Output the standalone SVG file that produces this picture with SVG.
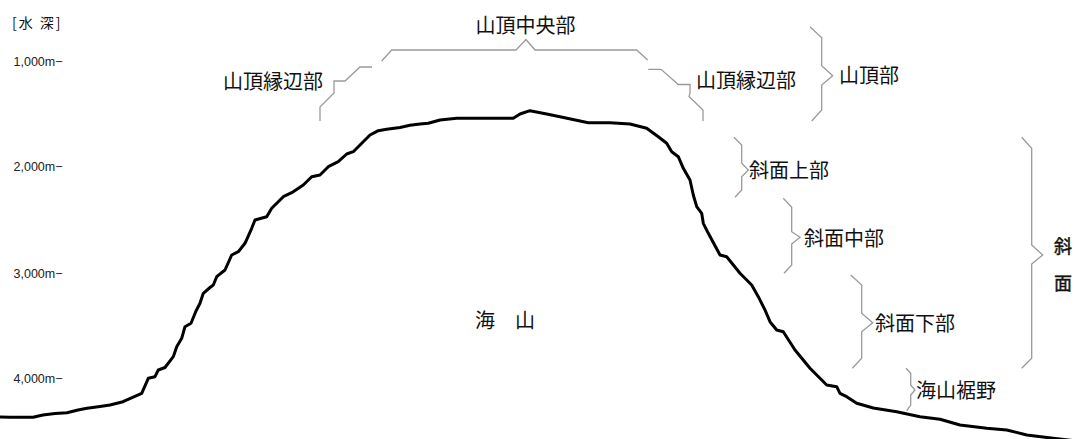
<svg xmlns="http://www.w3.org/2000/svg" width="1077" height="439" viewBox="0 0 1077 439">
  <style>
    .jp { font-family: "Noto Sans CJK JP", "Noto Sans", sans-serif; fill: #111; }
    .lbl { font-size: 20px; }
    .axis { font-family: "Liberation Sans", Arial, sans-serif; font-size: 12.5px; fill: #222; }
    .brace { fill: none; stroke: #9a9a9a; stroke-width: 1.3; stroke-linejoin: miter; }
    .profile { fill: none; stroke: #000; stroke-width: 3; stroke-linejoin: round; stroke-linecap: round; }
    .vert { font-size: 18px; stroke: #111; stroke-width: 0.45; }
  </style>
  <rect width="1077" height="439" fill="#fff"/>

  <!-- depth scale -->
  <g id="depth-axis">
    <text class="jp" x="12" y="28" font-size="14" letter-spacing="2">[水 深]</text>
    <text class="axis" x="13.5" y="65.5">1,000m−</text>
    <text class="axis" x="13.5" y="170.5">2,000m−</text>
    <text class="axis" x="13.5" y="277.8">3,000m−</text>
    <text class="axis" x="13.5" y="382.8">4,000m−</text>
  </g>

  <!-- seamount cross-section -->
  <g id="seamount">
    <path class="profile" d="M0,417 L10,417.3 L33,417.3 L43,415 L55,413.5 L67,412.7 L78,410 L87,408.3 L100,406.5 L110,405 L123,401.7 L141.7,393.3 L148.3,378.3 L155,376.7 L158.3,370 L165,367.5 L173.3,356.7 L176.7,346.7 L181.7,338.3 L185,326.7 L191,323.3 L196,311 L200,303.3 L203.3,293.3 L210,287.5 L213.3,285 L216.7,276.7 L225,270 L231.7,255 L238.3,251.7 L245,243.3 L251.7,228.3 L255,220 L266.7,216.7 L271.7,208.3 L283.3,196.7 L291.7,192.7 L303.3,185 L311.7,176.7 L320,175 L328.3,166.7 L338.3,161.7 L346.7,154 L353.3,151.7 L360,145 L370,135 L378.3,130.7 L386.7,129.3 L400,127.5 L410,125.3 L420,124 L428.3,123.3 L440,120 L456.7,118.3 L513.3,118.3 L520,114 L530,110.7 L546.7,114 L560,116.7 L588.3,122.7 L610,122.7 L630,124 L646.7,128.3 L658.3,136.7 L666.7,143.3 L671.7,151.7 L678.3,156.7 L683.3,168.3 L690,180 L693.3,195 L696.7,206.7 L701.7,213.3 L703.3,223.3 L708.3,233.3 L720,255 L726.7,256.7 L740,273.3 L751.7,285 L758.3,296.7 L765,310 L770,321.7 L776.7,330 L783.3,331.7 L795,350 L810,368.3 L826.7,385 L836.7,386.7 L840,393.3 L846.7,396.7 L856.7,403.3 L873.3,408 L896.7,411.7 L920,416.7 L940,419.3 L960,425 L986.7,428.3 L1006.7,430 L1026.7,435 L1053.3,438.3 L1077,441"/>
    <text class="jp lbl" x="475" y="328.3">海　山</text>
  </g>

  <!-- brace connectors -->
  <g id="braces">
    <polyline class="brace" points="320,121 320,107 334,93 334,81 345,81 360,67 372,67"/>
    <polyline class="brace" points="381.7,61 391.7,50 516,50 526,39.5 535,50 636.7,50 647.7,60"/>
    <polyline class="brace" points="648.3,69.3 661,69.3 678.3,84.5 690,84.5 690,93.3 689,96.5 703,110 703,121"/>
    <polyline class="brace" points="810,26.7 821.7,37.7 821.7,65.7 832.7,75.7 821.7,85 821.7,110 811.7,121"/>
    <polyline class="brace" points="734,137.3 741.7,145 741.7,163.3 748.3,170 741.7,176.7 741.7,190 735,197.3"/>
    <polyline class="brace" points="783.3,198.3 791.7,207.3 791.7,231.7 800,237.3 791.7,244 791.7,265 784,273.3"/>
    <polyline class="brace" points="850.7,275 861.7,285 861.7,313.3 872.7,322.7 861.7,331.7 861.7,358.3 852.3,368.3"/>
    <polyline class="brace" points="906,368.3 910.7,373.3 910.7,385 915,390 910.7,395 910.7,405 906.7,410.7"/>
    <polyline class="brace" points="1021.7,137.3 1031.7,148.3 1031.7,245 1042.7,255 1031.7,264 1031.7,358.3 1021.7,368.3"/>
  </g>

  <!-- zone labels -->
  <g id="summit-center"><text class="jp lbl" x="475.5" y="32.6">山頂中央部</text></g>
  <g id="summit-rim-left"><text class="jp lbl" x="223" y="88.6">山頂縁辺部</text></g>
  <g id="summit-rim-right"><text class="jp lbl" x="696" y="88.3">山頂縁辺部</text></g>
  <g id="summit"><text class="jp lbl" x="839" y="82.6">山頂部</text></g>
  <g id="upper-slope"><text class="jp lbl" x="749" y="177.6">斜面上部</text></g>
  <g id="middle-slope"><text class="jp lbl" x="804" y="246">斜面中部</text></g>
  <g id="lower-slope"><text class="jp lbl" x="875" y="331">斜面下部</text></g>
  <g id="foot"><text class="jp lbl" x="916" y="398.3">海山裾野</text></g>
  <g id="slope">
    <text class="jp vert" x="1054" y="252.8">斜</text>
    <text class="jp vert" x="1054" y="290">面</text>
  </g>
</svg>
